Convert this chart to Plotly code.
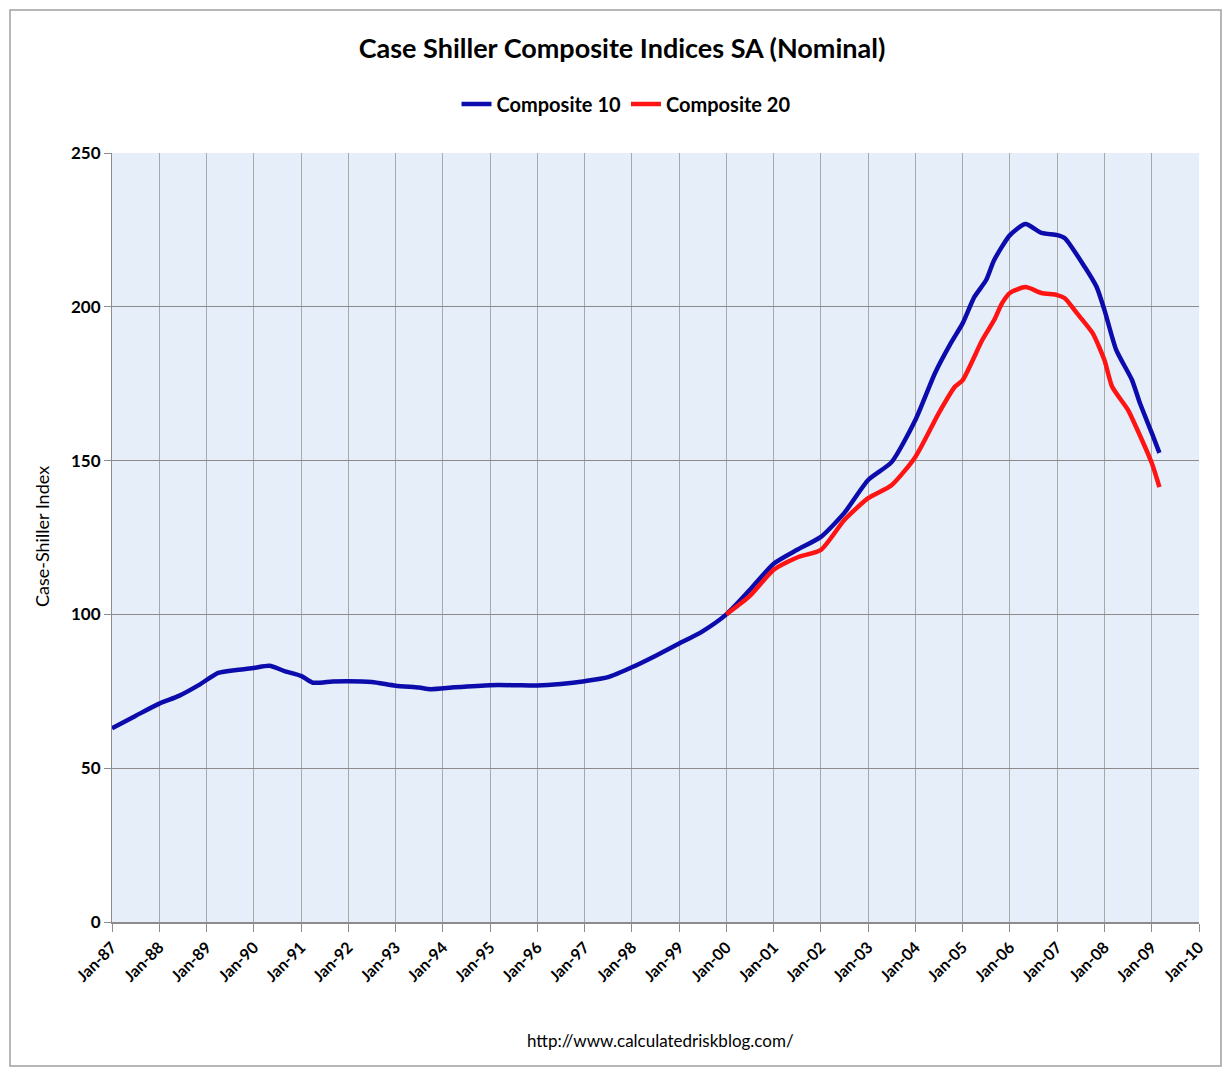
import plotly.graph_objects as go

# ---- data ----
c10_dates = [
    "1987-01-01", "1987-07-01", "1988-01-01", "1988-06-01", "1988-11-01",
    "1989-04-01", "1989-09-01", "1990-01-01", "1990-05-01", "1990-09-01",
    "1991-01-01", "1991-04-01", "1991-09-01", "1992-01-01", "1992-07-01",
    "1993-01-01", "1993-07-01", "1993-10-01", "1994-04-01", "1995-01-01",
    "1995-07-01", "1996-01-01", "1996-07-01", "1997-01-01", "1997-07-01",
    "1998-01-01", "1998-07-01", "1999-01-01", "1999-07-01", "2000-01-01",
    "2000-07-01", "2001-01-01", "2001-07-01", "2002-01-01", "2002-07-01",
    "2003-01-01", "2003-07-01", "2004-01-01", "2004-06-01", "2004-10-01",
    "2005-01-01", "2005-04-01", "2005-07-01", "2005-09-01", "2006-01-01",
    "2006-05-01", "2006-09-01", "2007-01-01", "2007-03-01", "2007-08-01",
    "2007-11-01", "2008-01-01", "2008-04-01", "2008-08-01", "2008-10-01",
    "2009-01-01", "2009-03-01",
]
c10_values = [
    63.0, 67.0, 71.0, 73.5, 77.0,
    81.0, 82.0, 82.6, 83.3, 81.5,
    80.0, 77.8, 78.2, 78.3, 78.0,
    76.8, 76.2, 75.7, 76.3, 77.0,
    77.0, 76.9, 77.4, 78.3, 79.6,
    82.8, 86.5, 90.5, 94.5, 100.0,
    108.0, 116.5, 121.0, 125.2, 133.0,
    143.7, 149.5, 163.2, 178.5, 188.2,
    194.7, 203.2, 208.7, 215.2, 223.3,
    226.9, 224.0, 223.3, 222.3, 213.0,
    206.5, 199.0, 186.0, 176.2, 168.7,
    159.0, 152.5,
]

c20_dates = [
    "2000-01-01", "2000-07-01", "2001-01-01", "2001-07-01", "2002-01-01",
    "2002-07-01", "2003-01-01", "2003-07-01", "2004-01-01", "2004-07-01",
    "2004-11-01", "2005-01-01", "2005-06-01", "2005-09-01", "2005-11-01",
    "2006-01-01", "2006-05-01", "2006-09-01", "2007-01-01", "2007-03-01",
    "2007-06-01", "2007-10-01", "2008-01-01", "2008-03-01", "2008-07-01",
    "2008-09-01", "2009-01-01", "2009-03-01",
]
c20_values = [
    100.0, 106.0, 114.5, 118.5, 121.0,
    130.7, 137.8, 142.0, 151.2, 165.5,
    174.0, 176.2, 189.2, 195.7, 201.2,
    204.5, 206.4, 204.5, 203.8, 202.8,
    198.0, 191.5, 182.7, 174.0, 166.5,
    161.0, 149.2, 141.4,
]

series_names = ["Composite 10", "Composite 20"]
series_colors = ["#0c0cac", "#ff1414"]

title_text = "Case Shiller Composite Indices SA (Nominal)"
y_title = "Case-Shiller Index"
source_text = "http://www.calculatedriskblog.com/"
x_range = ["1987-01-01", "2010-01-01"]
y_range = [0, 250]
y_dtick = 50

# ---- figure ----
W, H = 1224, 1071
L, R, T, B = 112, 25, 153, 149
pw, ph = W - L - R, H - T - B


def px_x(px):
    return (px - L) / pw


def px_y(py):
    return (H - B - py) / ph


fig = go.Figure()
fig.add_trace(go.Scatter(
    x=c10_dates, y=c10_values, mode="lines", name=series_names[0],
    line=dict(color=series_colors[0], width=4.5, shape="spline", smoothing=0.6),
))
fig.add_trace(go.Scatter(
    x=c20_dates, y=c20_values, mode="lines", name=series_names[1],
    line=dict(color=series_colors[1], width=4.5, shape="spline", smoothing=0.6),
))

font_main = "Lato, 'Open Sans', sans-serif"

fig.update_layout(
    width=W, height=H,
    margin=dict(l=L, r=R, t=T, b=B, autoexpand=False),
    paper_bgcolor="white",
    plot_bgcolor="#e6eef9",
    showlegend=True,
    title=dict(
        text=title_text, xref="container", x=622 / W, xanchor="center",
        yref="container", y=1 - 49 / H, yanchor="middle",
        font=dict(family=font_main, size=27, color="black", weight="bold"),
    ),
    legend=dict(
        orientation="h", xref="container", x=626 / W, xanchor="center",
        yref="container", y=1 - 104 / H, yanchor="middle",
        font=dict(family=font_main, size=20, color="black", weight="bold"),
        bgcolor="rgba(0,0,0,0)", itemwidth=30, tracegroupgap=0,
    ),
    xaxis=dict(
        type="date", range=x_range, tick0="1987-01-01", dtick="M12",
        tickformat="%b-%y", tickangle=-45,
        tickfont=dict(family=font_main, size=16, color="black", weight="bold"),
        showgrid=True, gridcolor="#a9a9a9", gridwidth=1,
        showline=True, linecolor="#8c8c8c", linewidth=1.5,
        ticks="outside", ticklen=8, tickcolor="#8c8c8c",
        zeroline=False, fixedrange=True,
    ),
    yaxis=dict(
        range=y_range, dtick=y_dtick, tick0=0,
        tickfont=dict(family=font_main, size=17, color="black", weight="bold"),
        showgrid=True, gridcolor="#8c8c8c", gridwidth=1.2,
        showline=True, linecolor="#8c8c8c", linewidth=1,
        ticks="outside", ticklen=7, tickcolor="#8c8c8c",
        zeroline=False, fixedrange=True,
    ),
    annotations=[
        dict(
            text=y_title, xref="paper", yref="paper",
            x=px_x(42), y=px_y(537), textangle=-90, showarrow=False,
            xanchor="center", yanchor="middle",
            font=dict(family=font_main, size=18, color="black"),
        ),
        dict(
            text=source_text, xref="paper", yref="paper",
            x=px_x(660), y=px_y(1040), showarrow=False,
            xanchor="center", yanchor="middle",
            font=dict(family=font_main, size=17, color="black"),
        ),
    ],
    shapes=[
        dict(
            type="rect", xref="paper", yref="paper",
            x0=px_x(10), x1=px_x(1221), y0=px_y(1066), y1=px_y(10),
            line=dict(color="#a0a0a0", width=1.5), fillcolor="rgba(0,0,0,0)",
            layer="below",
        ),
    ],
)

fig.write_html("out.html")
